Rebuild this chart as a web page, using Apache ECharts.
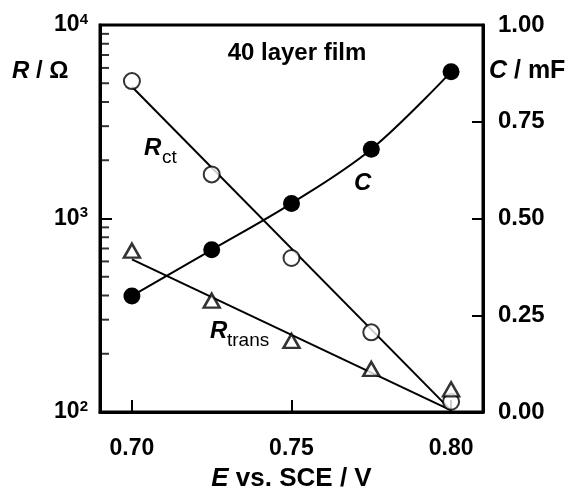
<!DOCTYPE html>
<html>
<head>
<meta charset="utf-8">
<script src="https://cdn.jsdelivr.net/npm/echarts@6/dist/echarts.min.js"></script>
<style>
  html, body { margin: 0; padding: 0; background: #fff; }
  #chart { width: 577px; height: 501px; }
</style>
</head>
<body>
<div id="chart"></div>
<script>
// Electrode potential (V vs. SCE)
const potentials = [0.70, 0.725, 0.75, 0.775, 0.80];
// Charge-transfer resistance, ohm
const rCt = [5130, 1690, 625, 258, 113];
// Transport resistance, ohm
const rTrans = [682, 376, 233, 167, 131];
// Film capacitance, mF
const capacitance = [0.300, 0.419, 0.539, 0.679, 0.879];
// Straight trend lines through the resistance data (end points)
const rCtTrendE = [0.70, 0.80];
const rCtTrendR = [4800, 102];
const rTransTrendE = [0.70, 0.80];
const rTransTrendR = [615, 102];
// Axis tick values
const eTicks = [0.70, 0.75, 0.80];
const rMinorTicks = [200, 300, 400, 500, 600, 700, 800, 900,
                     2000, 3000, 4000, 5000, 6000, 7000, 8000, 9000];

const FONT = '"Liberation Sans", Arial, Helvetica, sans-serif';
const E_MIN = 0.69, E_MAX = 0.81;

const zip = (xs, ys) => xs.map((x, i) => [x, ys[i]]);

const chart = echarts.init(document.getElementById('chart'), null, { renderer: 'canvas' });

chart.setOption({
  animation: false,
  backgroundColor: '#fff',
  textStyle: { fontFamily: FONT },
  grid: {
    left: 100, right: 94, top: 25, bottom: 89,
    show: true, borderColor: '#000', borderWidth: 3, backgroundColor: 'transparent'
  },
  xAxis: {
    type: 'value',
    min: E_MIN, max: E_MAX,
    axisLine: { show: true, onZero: false, lineStyle: { color: '#000', width: 3 } },
    axisTick: { show: true, inside: true, length: 12, customValues: eTicks,
                lineStyle: { color: '#000', width: 2 } },
    axisLabel: { show: true, customValues: eTicks, margin: 25,
                 formatter: v => v.toFixed(2),
                 color: '#000', fontSize: 23, fontWeight: 'bold', fontFamily: FONT },
    splitLine: { show: false },
    name: '{i|E} vs. SCE / V',
    nameLocation: 'middle',
    nameGap: 54,
    nameTextStyle: {
      color: '#000', fontSize: 26, fontWeight: 'bold', fontFamily: FONT,
      rich: { i: { fontSize: 26, fontWeight: 'bold', fontStyle: 'italic', fontFamily: FONT, color: '#000' } }
    }
  },
  yAxis: [
    {
      type: 'log',
      logBase: 10,
      min: 100, max: 10000,
      position: 'left',
      axisLine: { show: true, lineStyle: { color: '#000', width: 3 } },
      axisTick: { show: true, inside: true, length: 12, lineStyle: { color: '#000', width: 2 } },
      axisLabel: {
        margin: 12,
        formatter: v => '{b|10}{s|' + Math.round(Math.log10(v)) + '}',
        rich: {
          b: { fontSize: 23, fontWeight: 'bold', fontFamily: FONT, color: '#000', lineHeight: 26 },
          s: { fontSize: 15, fontWeight: 'bold', fontFamily: FONT, color: '#000', verticalAlign: 'top', lineHeight: 15 }
        }
      },
      splitLine: { show: false }
    },
    {
      type: 'value',
      min: 0, max: 1, interval: 0.25,
      position: 'right',
      axisLine: { show: true, lineStyle: { color: '#000', width: 3 } },
      axisTick: { show: true, inside: true, length: 11, lineStyle: { color: '#000', width: 2 } },
      axisLabel: { margin: 15, formatter: v => v.toFixed(2),
                   color: '#000', fontSize: 24, fontWeight: 'bold', fontFamily: FONT },
      splitLine: { show: false }
    }
  ],
  series: [
    {
      // minor ticks of the logarithmic resistance axis, pointing inwards
      name: 'rMinor', type: 'scatter', yAxisIndex: 0, silent: true, clip: false,
      data: rMinorTicks.map(v => [E_MIN, v]),
      symbol: 'rect', symbolSize: [9, 2], symbolOffset: ['50%', 0],
      itemStyle: { color: '#000' }, z: 1
    },
    {
      name: 'Rct trend', type: 'line', yAxisIndex: 0,
      data: zip(rCtTrendE, rCtTrendR), showSymbol: false, symbol: 'none',
      lineStyle: { color: '#000', width: 2 }, z: 2
    },
    {
      name: 'Rtrans trend', type: 'line', yAxisIndex: 0,
      data: zip(rTransTrendE, rTransTrendR), showSymbol: false, symbol: 'none',
      lineStyle: { color: '#000', width: 2 }, z: 2
    },
    {
      name: 'C', type: 'line', yAxisIndex: 1, smooth: 0.35,
      data: zip(potentials, capacitance),
      symbol: 'circle', symbolSize: 17, showSymbol: true,
      lineStyle: { color: '#000', width: 2 },
      itemStyle: { color: '#000', borderColor: '#000', borderWidth: 0 }, z: 3
    },
    {
      name: 'Rct', type: 'scatter', yAxisIndex: 0,
      data: zip(potentials, rCt),
      symbol: 'circle', symbolSize: 16,
      itemStyle: { color: '#fff', borderColor: '#000', borderWidth: 2 }, z: 4
    },
    {
      name: 'Rtrans', type: 'scatter', yAxisIndex: 0,
      data: zip(potentials, rTrans),
      symbol: 'triangle', symbolSize: [16, 14],
      itemStyle: { color: '#fff', borderColor: '#000', borderWidth: 2.5 }, z: 5
    }
  ],
  graphic: [
    { type: 'text', left: 12, top: 59, z: 10,
      style: { text: '{i|R} / Ω', fill: '#000', font: 'bold 24px ' + FONT,
               rich: { i: { fontStyle: 'italic', fontWeight: 'bold', fontSize: 24, fontFamily: FONT, fill: '#000' } } } },
    { type: 'text', left: 489, top: 59, z: 10,
      style: { text: '{i|C} / mF', fill: '#000', font: 'bold 25px ' + FONT,
               rich: { i: { fontStyle: 'italic', fontWeight: 'bold', fontSize: 25, fontFamily: FONT, fill: '#000' } } } },
    { type: 'text', x: 297, y: 53, z: 10,
      style: { text: '40 layer film', fill: '#000', font: 'bold 24px ' + FONT,
               align: 'center', verticalAlign: 'middle' } },
    { type: 'text', x: 144, y: 148, z: 10,
      style: { text: 'R', fill: '#000', font: 'italic bold 24px ' + FONT, align: 'left', verticalAlign: 'middle' } },
    { type: 'text', x: 162, y: 158, z: 10,
      style: { text: 'ct', fill: '#000', font: '19px ' + FONT, align: 'left', verticalAlign: 'middle' } },
    { type: 'text', x: 354, y: 183, z: 10,
      style: { text: 'C', fill: '#000', font: 'italic bold 24px ' + FONT, align: 'left', verticalAlign: 'middle' } },
    { type: 'text', x: 210, y: 331, z: 10,
      style: { text: 'R', fill: '#000', font: 'italic bold 24px ' + FONT, align: 'left', verticalAlign: 'middle' } },
    { type: 'text', x: 227, y: 341, z: 10,
      style: { text: 'trans', fill: '#000', font: '19px ' + FONT, align: 'left', verticalAlign: 'middle' } }
  ]
});
</script>
</body>
</html>
